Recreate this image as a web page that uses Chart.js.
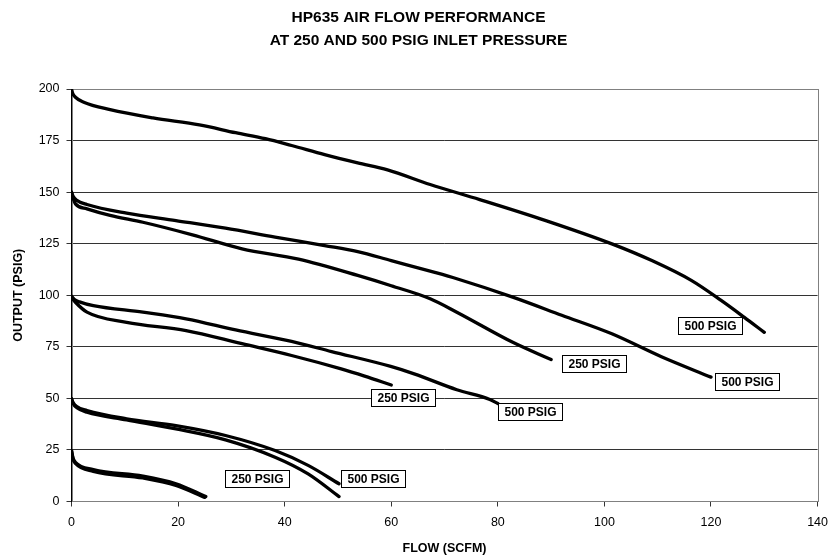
<!DOCTYPE html>
<html><head><meta charset="utf-8">
<script src="https://cdn.jsdelivr.net/npm/chart.js@4.4.0/dist/chart.umd.min.js"></script>
<style>html,body{margin:0;padding:0;background:#fff}#wrap{width:837px;height:559px}</style>
</head><body><div id="wrap"><canvas id="c" width="837" height="559"></canvas></div>
<script>
const chartTitle = ['HP635 AIR FLOW PERFORMANCE', 'AT 250 AND 500 PSIG INLET PRESSURE'];
const xAxisTitle = 'FLOW (SCFM)';
const yAxisTitle = 'OUTPUT (PSIG)';
const xTickValues = [0, 20, 40, 60, 80, 100, 120, 140];
const yTickValues = [0, 25, 50, 75, 100, 125, 150, 175, 200];

// 200 psig set point, 500 psig inlet
const flow500_200 = [0, 0.2, 0.74, 2.3, 7.25, 15.3, 24, 30.8, 36.4, 41.3, 47.5, 53.7, 59.3, 67.3, 76.6, 89, 101.4, 108.9, 116.3, 121.9, 126.2, 130];
const out500_200  = [200, 198, 196, 193.6, 190, 186, 182.6, 178.8, 175.9, 172.6, 168.2, 164.2, 160.8, 153.7, 146.4, 136.2, 124.9, 116.8, 107.2, 97.5, 89.4, 82];
// 150 psig set point
const flow500_150 = [0, 0.3, 1, 2.9, 10.35, 19.6, 28.9, 38.2, 47.5, 53.7, 60, 68, 72.3, 82.8, 92, 101.4, 110.7, 120];
const out500_150  = [150, 148, 146, 144, 139.8, 136.2, 132.5, 128.2, 124.1, 121.2, 116.8, 111.2, 108, 99.1, 90.3, 81.3, 70.2, 60.3];
const flow250_150 = [0, 0.3, 0.74, 2.9, 7.25, 13.4, 22.7, 32, 42.6, 53.7, 60, 67.3, 72.3, 82.8, 90];
const out250_150  = [150, 147, 144.3, 141.9, 138.7, 135.4, 129.3, 122.5, 117.5, 109.6, 104.6, 98.3, 91.8, 77.2, 68.8];
// 100 psig set point
const flow500_100 = [0, 0.5, 1.5, 4.1, 13.4, 21.5, 30.8, 41.3, 48.8, 59.9, 64.3, 72.3, 78.5, 80];
const out500_100  = [99.5, 98, 96.8, 95, 91.8, 88.6, 83.2, 77.6, 72.7, 65.5, 61.9, 54.2, 49.5, 47.5];
const flow250_100 = [0, 0.3, 0.74, 2.9, 10.35, 21.5, 32, 41.3, 50.6, 55, 60];
const out250_100  = [99.5, 98, 96.6, 91.8, 86.9, 82.9, 76.5, 70.8, 64.3, 60.8, 56.5];
// 50 psig set point
const flow500_50 = [0, 0.3, 1, 2.9, 10.35, 19.6, 28.9, 38.2, 44.4, 50.2];
const out500_50  = [49.8, 48, 46, 44.1, 40.1, 36.8, 32, 24.7, 17.5, 8.6];
const flow250_50 = [0, 0.3, 1, 2.9, 10.35, 19.6, 28.9, 38.2, 44.4, 50.2];
const out250_50  = [49.8, 47.5, 45.5, 43.3, 39.6, 35.2, 29.9, 21.5, 13.4, 2.4];
// 25 psig set point
const flow500_25 = [0, 0.3, 0.74, 4.1, 13.4, 19.6, 25.2];
const out500_25  = [24.7, 21, 19, 15.5, 12.3, 8.6, 2.4];
const flow250_25 = [0, 0.3, 0.74, 4.1, 13.4, 19.6, 25];
const out250_25  = [24.7, 20.5, 18.5, 14.6, 11.4, 7.8, 2];

const seriesFlows   = [flow500_200, flow500_150, flow250_150, flow500_100, flow250_100, flow500_50, flow250_50, flow500_25, flow250_25];
const seriesOutputs = [out500_200, out500_150, out250_150, out500_100, out250_100, out500_50, out250_50, out500_25, out250_25];
const seriesNames   = ['500 PSIG', '500 PSIG', '250 PSIG', '500 PSIG', '250 PSIG', '500 PSIG', '250 PSIG', '500 PSIG', '250 PSIG'];

// curve labels (anchor = label centre, in data units)
const labelTexts  = ['500 PSIG', '500 PSIG', '250 PSIG', '500 PSIG', '250 PSIG', '250 PSIG', '500 PSIG'];
const labelFlow   = [119.8, 126.8, 98.1, 86.0, 62.2, 34.8, 56.6];
const labelOutput = [85.3, 58.4, 66.8, 43.6, 50.4, 11.3, 11.3];

const FONT = "'Liberation Sans', Arial, Helvetica, sans-serif";

const datasets = seriesFlows.map((xs, i) => ({
  label: seriesNames[i],
  data: xs.map((x, j) => ({x: x, y: seriesOutputs[i][j]})),
  showLine: true,
  borderColor: '#000',
  backgroundColor: '#000',
  borderWidth: 3.3,
  borderCapStyle: 'round',
  borderJoinStyle: 'round',
  pointRadius: 0,
  pointHoverRadius: 0,
  fill: false,
  cubicInterpolationMode: 'monotone'
}));

const plotFrame = {
  id: 'plotFrame',
  beforeDatasetsDraw(chart) {
    const a = chart.chartArea, ctx = chart.ctx;
    ctx.save();
    ctx.strokeStyle = '#808080';
    ctx.lineWidth = 1;
    ctx.strokeRect(Math.round(a.left) + 0.5, Math.round(a.top) + 0.5, Math.round(a.right - a.left), Math.round(a.bottom - a.top));
    ctx.restore();
  }
};

const curveLabelPlugin = {
  id: 'curveLabels',
  afterDatasetsDraw(chart) {
    const ctx = chart.ctx, xs = chart.scales.x, ys = chart.scales.y;
    ctx.save();
    ctx.font = "bold 12px " + FONT;
    ctx.textAlign = 'center';
    ctx.textBaseline = 'middle';
    labelTexts.forEach((t, i) => {
      const cx = xs.getPixelForValue(labelFlow[i]);
      const cy = ys.getPixelForValue(labelOutput[i]);
      const w = Math.round(ctx.measureText(t).width + 12);
      const h = 17;
      const l = Math.round(cx - w / 2) + 0.5, tp = Math.round(cy - h / 2) + 0.5;
      ctx.fillStyle = '#fff';
      ctx.fillRect(l, tp, w, h);
      ctx.strokeStyle = '#000';
      ctx.lineWidth = 1;
      ctx.strokeRect(l, tp, w, h);
      ctx.fillStyle = '#000';
      ctx.fillText(t, l + w / 2, tp + h / 2 + 0.5);
    });
    ctx.restore();
  }
};

new Chart(document.getElementById('c'), {
  type: 'scatter',
  data: { datasets: datasets },
  options: {
    responsive: false,
    animation: false,
    devicePixelRatio: 1,
    layout: { padding: { left: 13, right: 13, top: 0, bottom: 0 } },
    plugins: {
      legend: { display: false },
      tooltip: { enabled: false },
      title: {
        display: true,
        text: chartTitle,
        color: '#000',
        font: { family: FONT, size: 15.5, weight: 'bold', lineHeight: 1.484 },
        padding: { top: 6.5, bottom: 36.5 }
      }
    },
    scales: {
      x: {
        type: 'linear',
        min: 0, max: 140,
        afterBuildTicks: (s) => { s.ticks = xTickValues.map(v => ({value: v})); },
        afterFit: (s) => { s.height = 57.5; },
        grid: { display: true, drawOnChartArea: false, drawTicks: true, tickLength: 5, color: '#333', lineWidth: 1 },
        border: { display: true, color: '#222', width: 1 },
        ticks: { color: '#000', padding: 9, font: { family: FONT, size: 12.5 }, maxRotation: 0 },
        title: { display: true, text: xAxisTitle, color: '#000', font: { family: FONT, size: 12.5, weight: 'bold', lineHeight: 1.2 }, padding: { top: 0, bottom: 2.5 } }
      },
      y: {
        type: 'linear',
        min: 0, max: 200,
        afterBuildTicks: (s) => { s.ticks = yTickValues.map(v => ({value: v})); },
        afterFit: (s) => { s.width = 58.5; },
        grid: { display: true, drawOnChartArea: true, drawTicks: true, tickLength: 5, color: '#333', lineWidth: 1 },
        border: { display: true, color: '#000', width: 1 },
        ticks: { color: '#000', padding: 7, font: { family: FONT, size: 12.5 } },
        title: { display: true, text: yAxisTitle, color: '#000', font: { family: FONT, size: 12.5, weight: 'bold', lineHeight: 1.2 }, padding: { top: -2, bottom: 0 } }
      }
    }
  },
  plugins: [plotFrame, curveLabelPlugin]
});
</script>
</body></html>
